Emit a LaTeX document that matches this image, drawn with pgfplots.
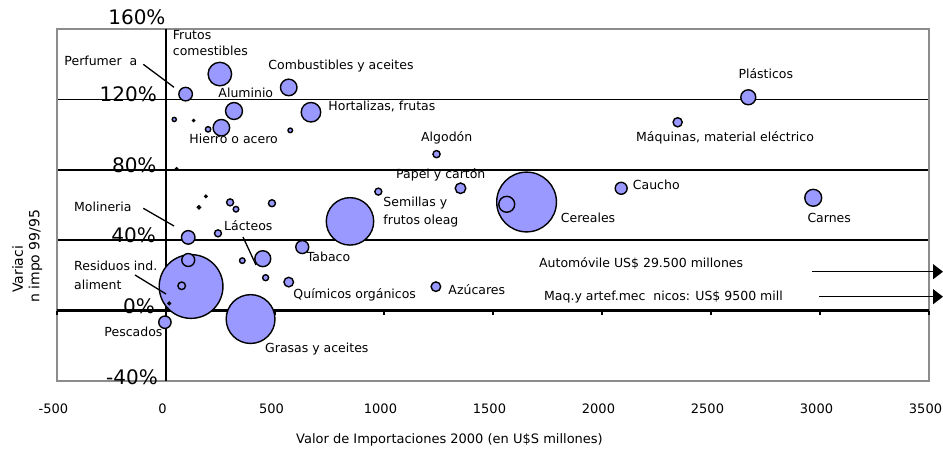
\documentclass[border=0pt]{standalone}
\usepackage{pgfplots}
\pgfplotsset{compat=1.18}
\usepackage{fontspec}
\setmainfont{DejaVu Sans}
\usetikzlibrary{arrows.meta}
\definecolor{bubble}{RGB}{153,153,255}
\definecolor{frame}{RGB}{140,140,140}
\newcommand{\lf}{\fontsize{12.5bp}{15bp}\selectfont}
\newcommand{\yf}{\fontsize{20bp}{24bp}\selectfont}
\begin{document}
\begin{tikzpicture}
\path[use as bounding box] (-57bp,-69bp) rectangle (886bp,381bp);
\begin{axis}[
  at={(0,0)}, anchor=south west,
  scale only axis, width=872bp, height=352bp,
  xmin=-500, xmax=3500, ymin=-40, ymax=160,
  clip=false,
  axis line style={frame, line width=1.6bp},
  xtick={-500,0,500,1000,1500,2000,2500,3000,3500},
  xticklabels={-500,0,500,1000,1500,2000,2500,3000,3500},
  xticklabel style={font=\fontsize{13bp}{16bp}\selectfont, anchor=base, yshift=-33bp, xshift=-3.5bp},
  ytick={40,80,120,160}, yticklabels={},
  major tick length=0pt,
  ymajorgrids, grid style={black, line width=1.5bp},
]
% axes through the origin
\draw[black, line width=1.4bp] (axis cs:0,-40) -- (axis cs:0,160);
\draw[black, line width=2.5bp] (axis cs:-500,0) -- (axis cs:3500,0);
\addplot[scatter, only marks, mark=*,
  scatter/use mapped color={draw=black, fill=bubble},
  mark options={line width=1.4bp},
  visualization depends on={\thisrow{r} \as \rr},
  scatter/@pre marker code/.append style={/tikz/mark size=\rr}]
  table[x=x, y=y] {
x y r
115 13.7 32
1654 61.7 30
388 -4.8 24.5
844 50.7 23.8
247 134.4 11.8
665 112.7 9.8
312 113.4 8.5
2969 64.1 8.5
444 29.5 8
254 103.9 8.3
563 126.8 8.3
1563 60.4 8
2671 121.2 7.5
102 28.75 6.5
90 123 6.8
102 41.6 6.8
625 36.1 6.5
-5 -6.6 6.2
2088 69.5 6
1351 69.5 5.3
563 16.2 4.8
1238 13.6 4.8
2347 107 4.6
72 14.1 3.8
1241 88.9 3.6
974 67.6 3.5
294 61.5 3.5
486 61 3.5
238.5 43.9 3.5
457 18.7 3
193 103 2.7
350 28.4 2.8
321 57.6 2.8
570 102.4 2.3
38 108.6 2.1
151 58.7 1.6
183 64.9 1.2
15 4.1 1.2
127 108 1
49 80.6 1
};
\end{axis}
\begin{scope}[x=1bp, y=-1bp, shift={(-57bp,381bp)}]
% small ticks on the zero line
\draw[black, line width=1.6bp]
  (57,310.6) -- (57,314.6) (166,310.6) -- (166,314.6)
  (275,310.6) -- (275,314.6) (384,310.6) -- (384,314.6)
  (493,310.6) -- (493,314.6) (602,310.6) -- (602,314.6)
  (711,310.6) -- (711,314.6) (820,310.6) -- (820,314.6)
  (929,310.6) -- (929,314.6);
% y tick labels
\node[anchor=base east, inner sep=0pt, font=\yf] at (165.7,24.3) {160\%};
\node[anchor=base east, inner sep=0pt, font=\yf] at (157,101.7) {120\%};
\node[anchor=base east, inner sep=0pt, font=\yf] at (156.7,172.7) {80\%};
\node[anchor=base east, inner sep=0pt, font=\yf] at (156,242.3) {40\%};
\node[anchor=base east, inner sep=0pt, font=\yf] at (155,313.3) {0\%};
\node[anchor=base east, inner sep=0pt, font=\yf] at (158,385) {-40\%};
% axis titles
\node[anchor=base west, inner sep=0pt, font=\fontsize{13bp}{16bp}\selectfont] at (296,444) {Valor de Importaciones 2000 (en U\$S millones)};
\node[anchor=base west, inner sep=0pt, rotate=90, font=\fontsize{14bp}{17bp}\selectfont] at (23,293) {Variaci};
\node[anchor=base west, inner sep=0pt, rotate=90, font=\fontsize{14bp}{17bp}\selectfont] at (39.5,303) {n impo 99/95};
% bubble labels
\begin{scope}[every node/.style={anchor=base west, inner sep=0pt, font=\lf}]
\node at (172.7,39.3) {Frutos};
\node at (172.7,56) {comestibles};
\node at (64.3,66) {Perfumer\ \ a};
\node at (268.3,70) {Combustibles y aceites};
\node at (218.3,97.7) {Aluminio};
\node at (328.3,111) {Hortalizas, frutas};
\node at (189.3,144) {Hierro o acero};
\node at (421,141.7) {Algodón};
\node at (738.3,78.3) {Plásticos};
\node at (636,141.7) {Máquinas, material eléctrico};
\node at (396,179) {Papel y cartón};
\node at (383.3,206.7) {Semillas y};
\node at (383.3,224.3) {frutos oleag};
\node at (560.7,222.3) {Cereales};
\node at (632.7,190) {Caucho};
\node at (807.3,222.3) {Carnes};
\node at (74,211.7) {Molineria};
\node at (224,231) {Lácteos};
\node at (306.7,261.7) {Tabaco};
\node at (74,270.7) {Residuos ind.};
\node at (74,289.3) {aliment};
\node at (293.3,298.3) {Químicos orgánicos};
\node at (448.3,295) {Azúcares};
\node at (104.3,336.7) {Pescados};
\node at (265,352.7) {Grasas y aceites};
\node at (539,267.3) {Automóvile US\$ 29.500 millones};
\node at (544,300.7) {Maq.y artef.mec\ \ nicos: US\$ 9500 mill};
\end{scope}
% leader lines
\draw[line width=1.3bp] (143.3,64.3) -- (174,87.3);
\draw[line width=1.3bp] (143.3,208.3) -- (174,226);
\draw[line width=1.3bp] (243,237) -- (256,265);
\draw[line width=1.3bp] (135,275) -- (166,294);
% arrows
\draw[line width=1.4bp, -{Triangle[length=10bp, width=15bp]}] (812.3,271.7) -- (943,271.7);
\draw[line width=1.4bp, -{Triangle[length=10bp, width=15bp]}] (819,296.7) -- (943,296.7);
\end{scope}
\end{tikzpicture}
\end{document}
